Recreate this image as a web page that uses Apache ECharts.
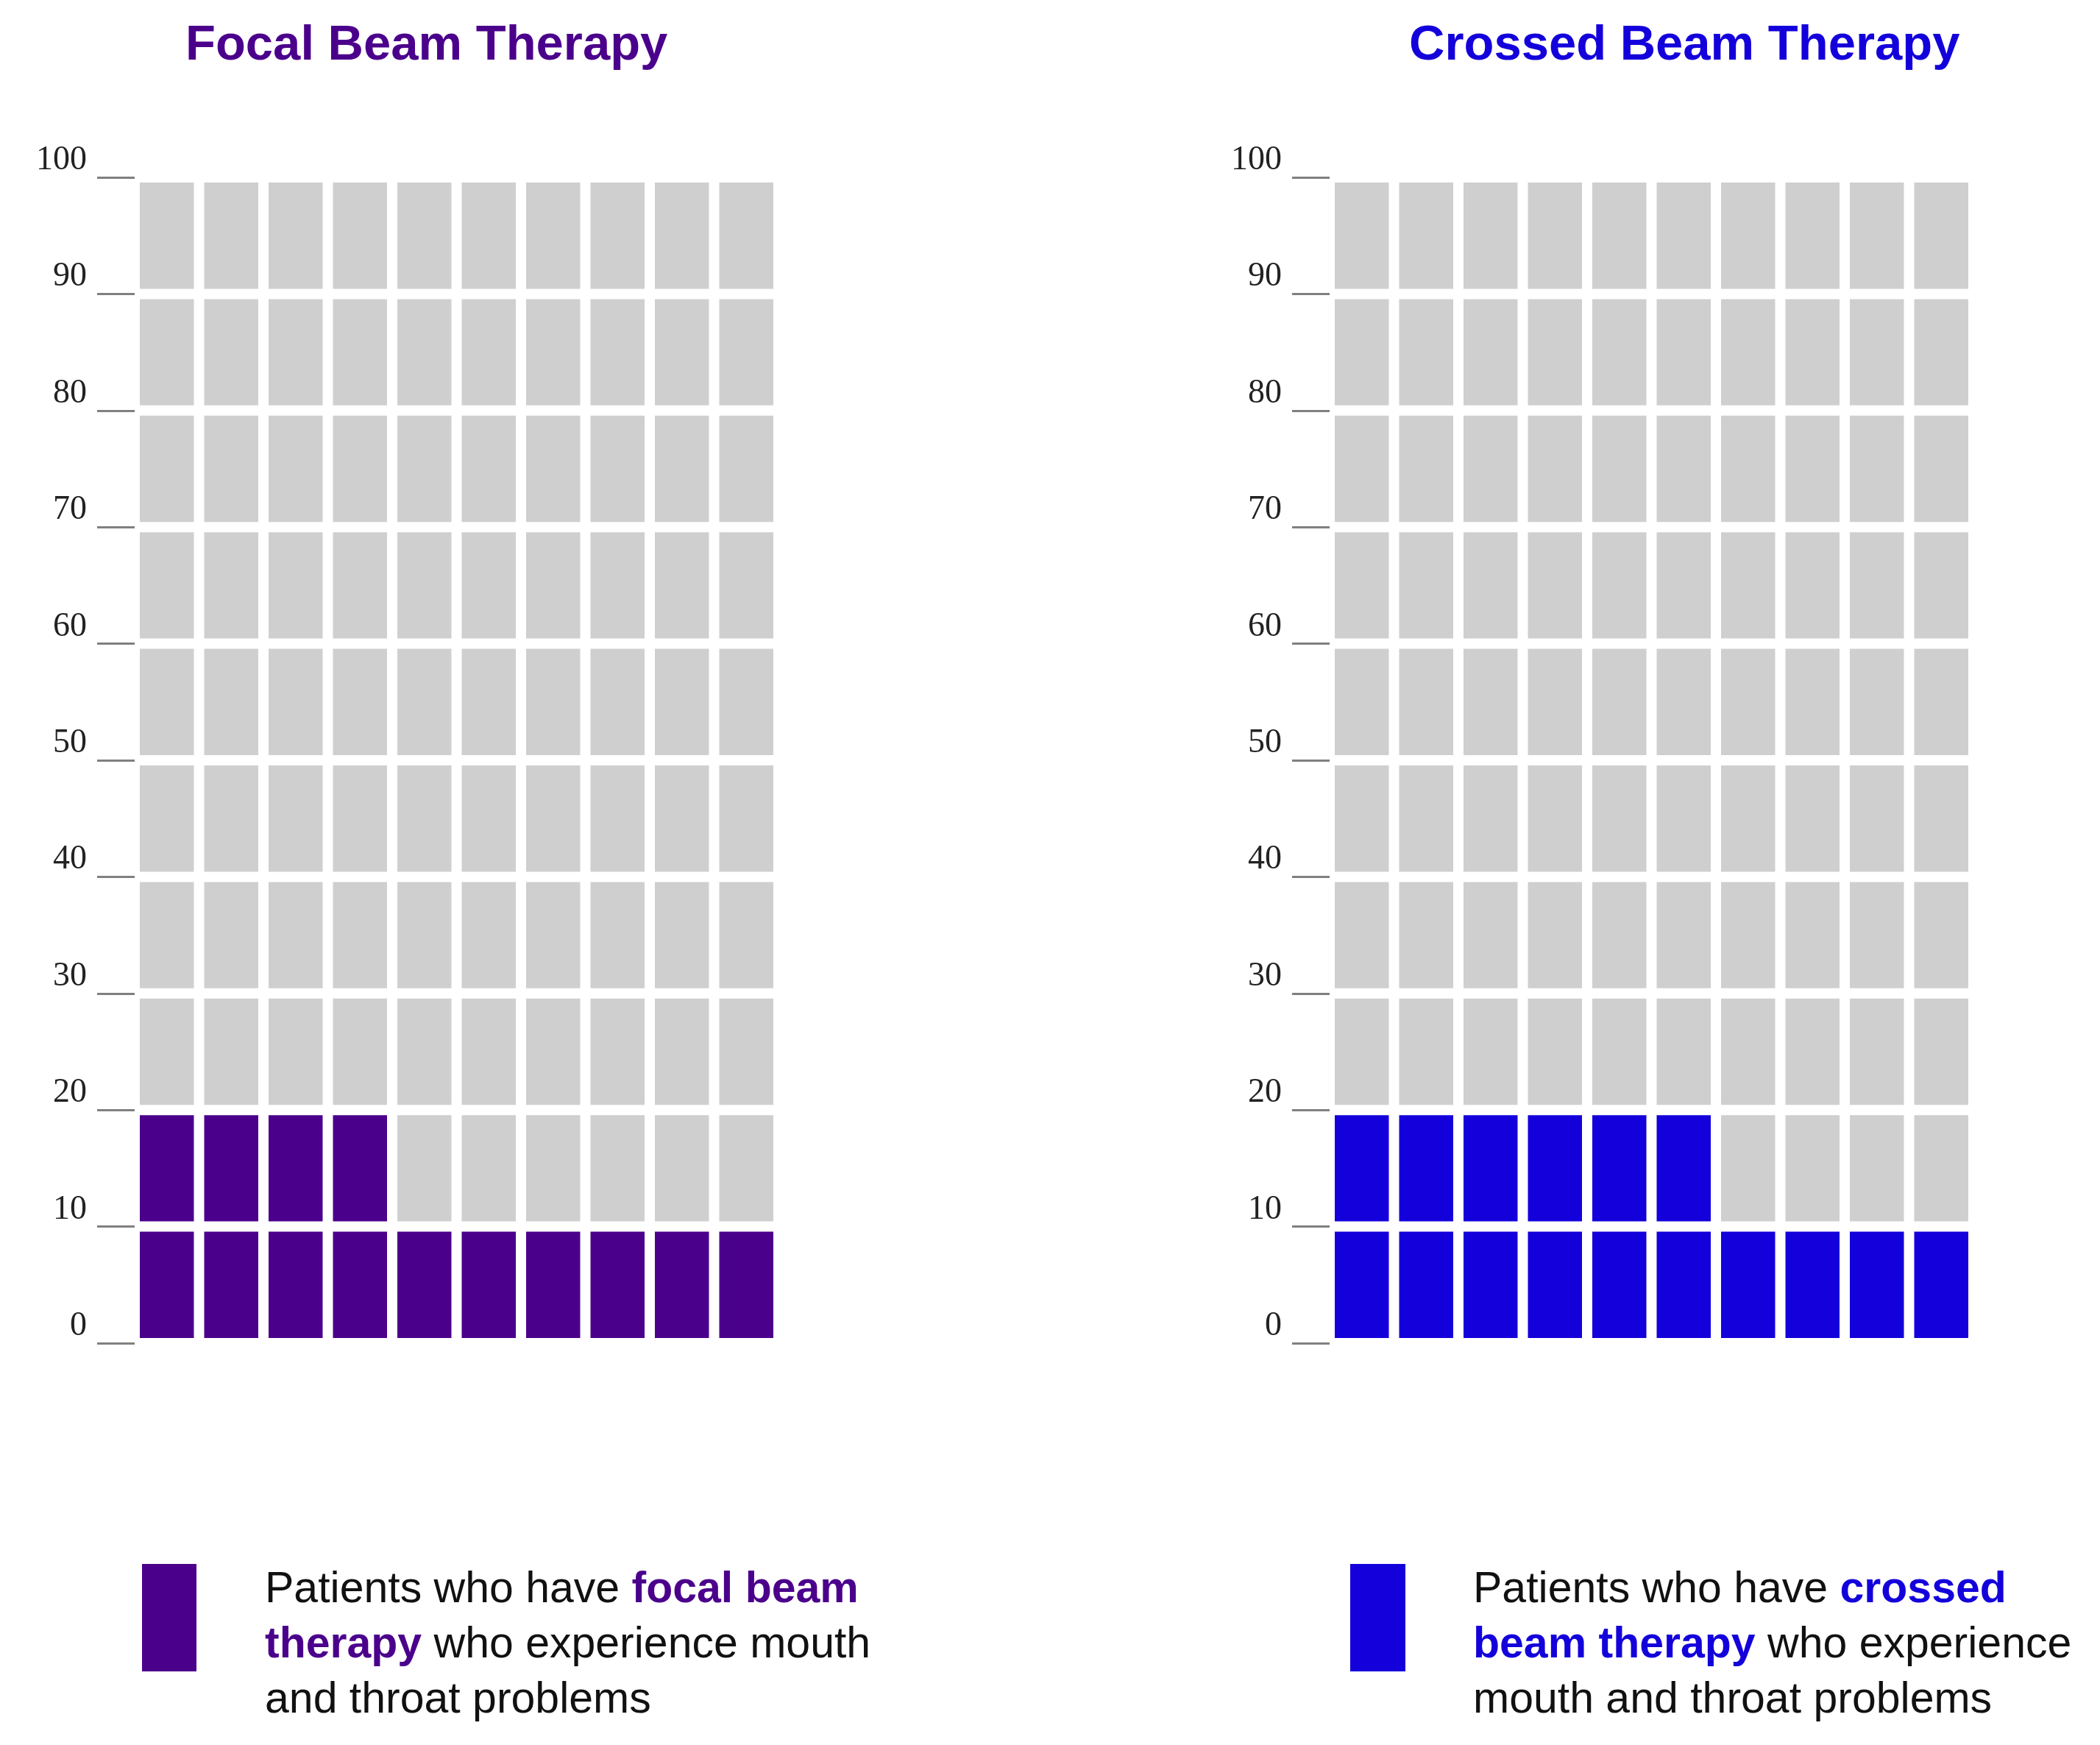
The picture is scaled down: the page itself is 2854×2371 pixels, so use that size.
<!DOCTYPE html>
<html>
<head>
<meta charset="utf-8">
<script src="https://cdn.jsdelivr.net/npm/echarts@6/dist/echarts.min.js"></script>
<style>
  html, body { margin: 0; padding: 0; background: #ffffff; }
  #chart { width: 2854px; height: 2371px; }
</style>
</head>
<body>
<div id="chart"></div>
<script>
// ---- data ----
const columns = ['1', '2', '3', '4', '5', '6', '7', '8', '9', '10'];
const yAxisTicks = [0, 10, 20, 30, 40, 50, 60, 70, 80, 90, 100];
const rowValue = 10;          // each waffle row spans 10 % on the axis
const rowCount = 10;
const focalAffected = 14;     // out of 100 patients
const crossedAffected = 16;   // out of 100 patients
const panelTitles = ['Focal Beam Therapy', 'Crossed Beam Therapy'];

// ---- styles ----
const PURPLE = '#4B008C';
const BLUE = '#1300DB';
const GRAY = '#CFCFCF';

const chart = echarts.init(document.getElementById('chart'), null, { renderer: 'canvas' });

function buildSeries(gridIndex, affected, color) {
  const out = [];
  for (let r = 0; r < rowCount; r++) {
    out.push({
      type: 'bar',
      xAxisIndex: gridIndex,
      yAxisIndex: gridIndex,
      stack: 'waffle' + gridIndex,
      barWidth: '100%',
      barCategoryGap: '0%',
      silent: true,
      data: columns.map((c, ci) => ({
        value: rowValue,
        itemStyle: {
          color: (r * columns.length + ci) < affected ? color : GRAY,
          borderColor: '#ffffff',
          borderWidth: 7
        }
      }))
    });
  }
  return out;
}

function yAxisFor(gridIndex) {
  return {
    type: 'value',
    gridIndex: gridIndex,
    min: yAxisTicks[0],
    max: yAxisTicks[yAxisTicks.length - 1],
    interval: yAxisTicks[1] - yAxisTicks[0],
    axisLine: { show: false },
    axisTick: { show: true, length: 51, lineStyle: { color: '#808080', width: 3 } },
    splitLine: { show: false },
    axisLabel: {
      margin: 65,
      fontFamily: 'Liberation Serif',
      fontSize: 46,
      color: '#222222',
      verticalAlign: 'bottom',
      lineHeight: 46
    }
  };
}

function legendText(x, richText, color) {
  return {
    type: 'text',
    left: x,
    top: 2123,
    style: {
      text: richText,
      fontFamily: 'Liberation Sans',
      fontSize: 59,
      lineHeight: 75,
      fill: '#111111',
      rich: {
        n: { fontFamily: 'Liberation Sans', fontSize: 59, lineHeight: 75, fill: '#111111' },
        b: { fontFamily: 'Liberation Sans', fontSize: 59, lineHeight: 75, fontWeight: 'bold', fill: color }
      }
    }
  };
}

const option = {
  animation: false,
  backgroundColor: '#ffffff',
  grid: [
    { left: 183, top: 241, width: 875, height: 1584 },
    { left: 1807, top: 241, width: 875, height: 1584 }
  ],
  xAxis: [
    { type: 'category', gridIndex: 0, data: columns, show: false },
    { type: 'category', gridIndex: 1, data: columns, show: false }
  ],
  yAxis: [yAxisFor(0), yAxisFor(1)],
  series: buildSeries(0, focalAffected, PURPLE).concat(buildSeries(1, crossedAffected, BLUE)),
  graphic: [
    {
      type: 'text', x: 252, y: 63,
      style: { text: panelTitles[0], fontFamily: 'Liberation Sans', fontWeight: 'bold', fontSize: 67, fill: PURPLE, verticalAlign: 'middle', align: 'left' }
    },
    {
      type: 'text', x: 1915, y: 63,
      style: { text: panelTitles[1], fontFamily: 'Liberation Sans', fontWeight: 'bold', fontSize: 67, fill: BLUE, verticalAlign: 'middle', align: 'left' }
    },
    { type: 'rect', shape: { x: 193, y: 2125, width: 74, height: 146 }, style: { fill: PURPLE } },
    { type: 'rect', shape: { x: 1835, y: 2125, width: 75, height: 146 }, style: { fill: BLUE } },
    legendText(360, '{n|Patients who have }{b|focal beam}\n{b|therapy}{n| who experience mouth}\n{n|and throat problems}', PURPLE),
    legendText(2002, '{n|Patients who have }{b|crossed}\n{b|beam therapy}{n| who experience}\n{n|mouth and throat problems}', BLUE)
  ]
};

chart.setOption(option);
</script>
</body>
</html>
